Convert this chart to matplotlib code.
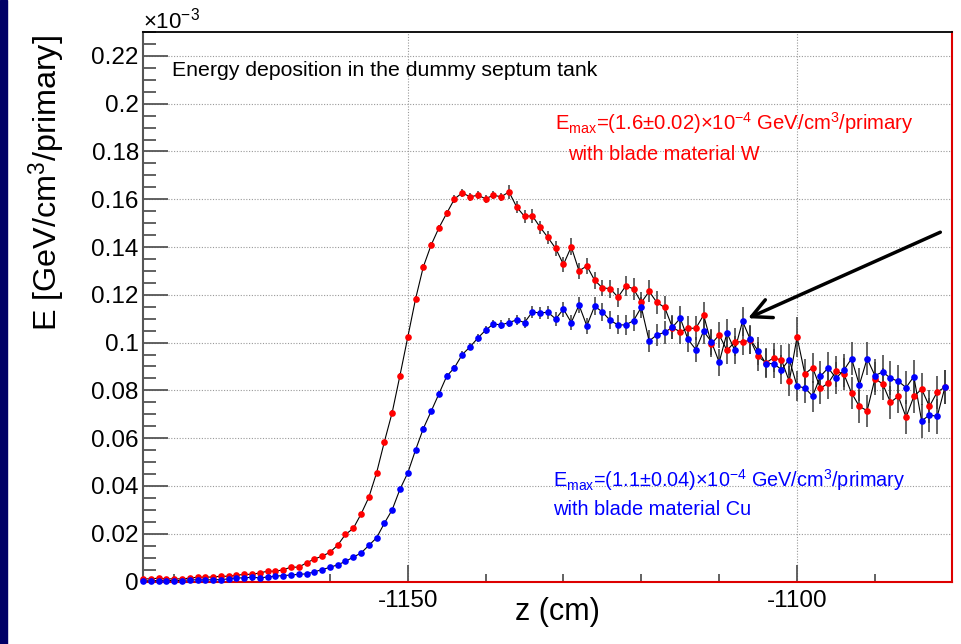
import matplotlib
matplotlib.use('Agg')
import matplotlib.pyplot as plt
from matplotlib.ticker import MultipleLocator, FixedLocator, FuncFormatter
from matplotlib.patches import Rectangle
import numpy as np

plt.rcParams['font.family'] = ['Liberation Sans', 'DejaVu Sans']
plt.rcParams['mathtext.fontset'] = 'custom'
plt.rcParams['mathtext.rm'] = 'Liberation Sans'
plt.rcParams['mathtext.it'] = 'Liberation Sans:italic'
plt.rcParams['mathtext.bf'] = 'Liberation Sans:bold'
plt.rcParams['axes.unicode_minus'] = False

# ---- data (values in units of 1e-3 GeV/cm^3/primary) ----
z_cm = np.arange(-1184, -1080, 1)

edep_W = [0.0011, 0.0011, 0.0014, 0.0011, 0.0011, 0.0011, 0.0014, 0.0018, 0.0018, 0.0019,
          0.0022, 0.0022, 0.0026, 0.0030, 0.0030, 0.0036, 0.0043, 0.0043, 0.0049, 0.0060,
          0.0060, 0.0078, 0.0094, 0.0106, 0.0122, 0.0152, 0.0197, 0.0222, 0.0282, 0.0352,
          0.0455, 0.0585, 0.0707, 0.0862, 0.1022, 0.1182, 0.1317, 0.1408, 0.1480, 0.1541,
          0.1601, 0.1627, 0.1610, 0.1617, 0.1602, 0.1617, 0.1610, 0.1631, 0.1567, 0.1528,
          0.1531, 0.1483, 0.1440, 0.1394, 0.1327, 0.1401, 0.1300, 0.1321, 0.1261, 0.1229,
          0.1226, 0.1190, 0.1237, 0.1225, 0.1168, 0.1214, 0.1168, 0.1147, 0.1063, 0.1045,
          0.1060, 0.1060, 0.1115, 0.0995, 0.1032, 0.0967, 0.1003, 0.1003, 0.1010, 0.0942,
          0.0916, 0.0936, 0.0927, 0.0838, 0.1024, 0.0869, 0.0895, 0.0809, 0.0830, 0.0880,
          0.0869, 0.0789, 0.0733, 0.0715, 0.0849, 0.0827, 0.0750, 0.0775, 0.0688, 0.0775,
          0.0805, 0.0733, 0.0793, 0.0814]

edep_Cu = [0.0003, 0.0003, 0.0004, 0.0004, 0.0004, 0.0004, 0.0007, 0.0007, 0.0007, 0.0007,
           0.0008, 0.0011, 0.0015, 0.0015, 0.0018, 0.0015, 0.0019, 0.0022, 0.0025, 0.0027,
           0.0030, 0.0032, 0.0040, 0.0050, 0.0059, 0.0070, 0.0084, 0.0102, 0.0119, 0.0151,
           0.0183, 0.0244, 0.0300, 0.0386, 0.0454, 0.0550, 0.0640, 0.0712, 0.0785, 0.0859,
           0.0895, 0.0950, 0.0982, 0.1019, 0.1052, 0.1078, 0.1074, 0.1084, 0.1095, 0.1084,
           0.1128, 0.1124, 0.1127, 0.1099, 0.1140, 0.1084, 0.1157, 0.1070, 0.1153, 0.1128,
           0.1093, 0.1074, 0.1074, 0.1092, 0.1148, 0.1007, 0.1032, 0.1043, 0.1064, 0.1102,
           0.1013, 0.0971, 0.1048, 0.1003, 0.0918, 0.1040, 0.0968, 0.1089, 0.1013, 0.0965,
           0.0912, 0.0912, 0.0887, 0.0929, 0.0818, 0.0810, 0.0776, 0.0859, 0.0894, 0.0851,
           0.0884, 0.0933, 0.0823, 0.0933, 0.0862, 0.0877, 0.0851, 0.0838, 0.0812, 0.0858,
           0.0672, 0.0697, 0.0691, 0.0814]

err_W = ([0.0002] * 12 +
         [0.0003, 0.0003, 0.0003, 0.0003, 0.0004, 0.0004, 0.0004, 0.0004, 0.0005, 0.0005, 0.0005, 0.0005] +
         [0.0006, 0.0006, 0.0007, 0.0007, 0.0008, 0.0008, 0.0009, 0.0009, 0.0010, 0.0010, 0.0011, 0.0011,
          0.0012, 0.0012, 0.0013] +
         [0.0014, 0.0015, 0.0016, 0.0016, 0.0017, 0.0017, 0.0018, 0.0018] +
         [0.0028, 0.0025, 0.0026, 0.0030, 0.0027, 0.0028, 0.0030, 0.0032, 0.0035, 0.0033, 0.0034, 0.0036,
          0.0035] +
         [0.0038, 0.0040, 0.0042, 0.0045, 0.0043, 0.0046, 0.0048, 0.0047, 0.0050, 0.0049, 0.0052, 0.0051,
          0.0055] +
         [0.0056, 0.0055, 0.0058, 0.0060, 0.0057, 0.0059, 0.0060, 0.0062, 0.0061, 0.0063, 0.0062, 0.0085,
          0.0064, 0.0063, 0.0066, 0.0065, 0.0064, 0.0067, 0.0066, 0.0068, 0.0067, 0.0069, 0.0066, 0.0068,
          0.0068, 0.0070, 0.0069, 0.0068, 0.0070, 0.0069, 0.0070])

err_Cu = ([0.0001] * 12 +
          [0.0002] * 6 + [0.0003] * 6 +
          [0.0004, 0.0004, 0.0005, 0.0005, 0.0006, 0.0006, 0.0007, 0.0007, 0.0008, 0.0008, 0.0009, 0.0009,
           0.0010, 0.0010, 0.0011] +
          [0.0012, 0.0013, 0.0014, 0.0015, 0.0016, 0.0017, 0.0018, 0.0019] +
          [0.0020, 0.0022, 0.0024, 0.0026, 0.0027, 0.0028, 0.0030, 0.0031, 0.0033, 0.0034, 0.0035, 0.0036,
           0.0037] +
          [0.0038, 0.0040, 0.0041, 0.0043, 0.0044, 0.0046, 0.0047, 0.0049, 0.0050, 0.0051, 0.0052, 0.0053,
           0.0054] +
          [0.0055, 0.0056, 0.0057, 0.0058, 0.0061, 0.0059, 0.0060, 0.0061, 0.0062, 0.0062, 0.0063, 0.0064,
           0.0064, 0.0065, 0.0066, 0.0066, 0.0067, 0.0068, 0.0068, 0.0069, 0.0068, 0.0069, 0.0070, 0.0070,
           0.0069, 0.0070, 0.0071, 0.0071, 0.0070, 0.0072, 0.0071])

x_major = [-1150, -1100]

# ---- figure ----
W, H = 961, 644
fig = plt.figure(figsize=(W / 100, H / 100), dpi=100)
fig.patches.append(Rectangle((0, 0), 7 / W, 1, transform=fig.transFigure,
                             color='#000066', zorder=-5))

ax_l, ax_r, ax_t, ax_b = 143, 952, 32, 581.5
ax = fig.add_axes([ax_l / W, (H - ax_b) / H, (ax_r - ax_l) / W, (ax_b - ax_t) / H])

ax.set_xlim(-1184, -1080.1)
ax.set_ylim(0, 0.23)

ax.xaxis.set_major_locator(FixedLocator(x_major))
ax.xaxis.set_minor_locator(MultipleLocator(10))
ax.yaxis.set_major_locator(MultipleLocator(0.02))
ax.yaxis.set_minor_locator(MultipleLocator(0.005))
ax.xaxis.set_major_formatter(FuncFormatter(lambda v, p: f'{int(round(v))}'))
ax.yaxis.set_major_formatter(FuncFormatter(lambda v, p: '0' if abs(v) < 1e-9 else f'{v:g}'))

ax.tick_params(axis='both', which='both', direction='in', colors='#555555', width=1.3,
               labelcolor='black', labelsize=17.5)
ax.tick_params(axis='y', which='major', length=18, pad=3)
ax.tick_params(axis='y', which='minor', length=9)
ax.tick_params(axis='x', which='major', length=12, pad=6)
ax.tick_params(axis='x', which='minor', length=5.5)

ax.grid(True, which='major', linestyle=(0, (1, 1.5)), color='#999999', linewidth=0.8)

for side, col, lw in [('top', 'black', 1.3), ('left', '#555555', 1.5),
                      ('bottom', '#dd0000', 1.5), ('right', '#dd0000', 1.5)]:
    ax.spines[side].set_color(col)
    ax.spines[side].set_linewidth(lw)

# series
ax.errorbar(z_cm, edep_W, yerr=err_W, fmt='none', ecolor='#3a3a3a', elinewidth=1.1,
            capsize=0, zorder=3)
ax.errorbar(z_cm, edep_Cu, yerr=err_Cu, fmt='none', ecolor='#3a3a3a', elinewidth=1.1,
            capsize=0, zorder=3)
ax.plot(z_cm, edep_W, color='black', lw=0.8, zorder=4)
ax.plot(z_cm, edep_Cu, color='black', lw=0.8, zorder=4)
ax.plot(z_cm, edep_W, 'o', color='#ff0000', ms=4.8, mew=0, zorder=5, clip_on=False)
ax.plot(z_cm, edep_Cu, 'o', color='#0000ff', ms=4.8, mew=0, zorder=6, clip_on=False)

# arrow
ax.annotate('', xy=(-1106.3, 0.1102), xytext=(-1081.6, 0.1462),
            arrowprops=dict(arrowstyle='->,head_length=0.7,head_width=0.35', lw=2.5,
                            color='black', mutation_scale=20, shrinkA=0, shrinkB=0),
            annotation_clip=False, zorder=7)

# texts
def fx(px):
    return px / W

def fy(py):
    return 1 - py / H

fig.text(fx(143), fy(28), r'×10$^{\mathregular{-3}}$', fontsize=16, ha='left', va='baseline')
fig.text(fx(47), fy(35), r'E [GeV/cm$^{\mathregular{3}}$/primary]', fontsize=23.3,
         rotation=90, ha='center', va='top')
fig.text(fx(557), fy(612), 'z (cm)', fontsize=22, ha='center', va='center')
fig.text(fx(172), fy(76), 'Energy deposition in the dummy septum tank', fontsize=15.3,
         ha='left', va='baseline')

fig.text(fx(555), fy(130),
         r'E$_{\mathregular{max}}$=(1.6±0.02)×10$^{\mathregular{-4}}$ GeV/cm$^{\mathregular{3}}$/primary',
         fontsize=14.6, color='#ff0000', ha='left', va='baseline')
fig.text(fx(568), fy(160), 'with blade material W', fontsize=14.4, color='#ff0000',
         ha='left', va='baseline')
fig.text(fx(553), fy(487),
         r'E$_{\mathregular{max}}$=(1.1±0.04)×10$^{\mathregular{-4}}$ GeV/cm$^{\mathregular{3}}$/primary',
         fontsize=14.3, color='#0000ff', ha='left', va='baseline')
fig.text(fx(553), fy(515), 'with blade material Cu', fontsize=14.4, color='#0000ff',
         ha='left', va='baseline')

fig.savefig('out.png', dpi=100)
